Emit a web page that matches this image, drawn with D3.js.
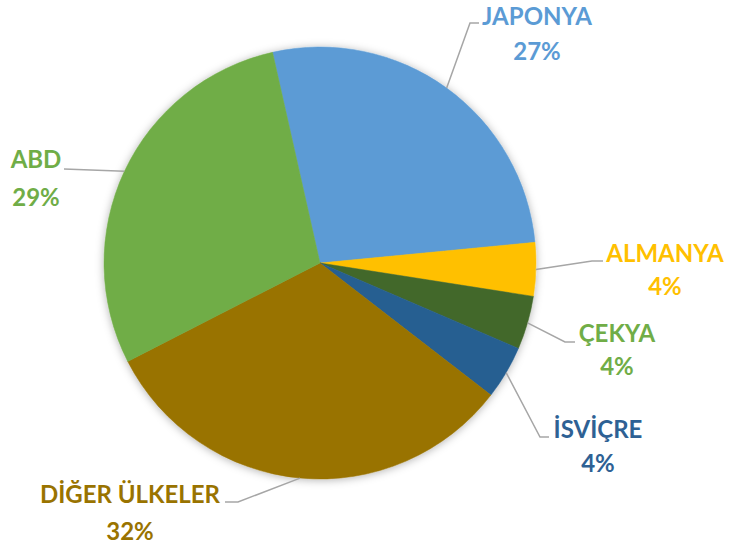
<!DOCTYPE html>
<html>
<head>
<meta charset="utf-8">
<script src="https://cdn.jsdelivr.net/npm/d3@7"></script>
<style>
  body { margin: 0; background: #fff; }
  text { font-family: Lato, "Open Sans", sans-serif; font-weight: 700; }
</style>
</head>
<body>
<script>
let width = 729,
  height = 546,
  cx = 320,
  cy = 263,
  radius = 216

// data
let countries = ['JAPONYA', 'ALMANYA', 'ÇEKYA', 'İSVİÇRE', 'DİĞER ÜLKELER', 'ABD']
let shares = [27, 4, 4, 4, 32, 29]
let sliceColors = ['#5b9bd5', '#ffc000', '#43682b', '#255e91', '#997300', '#70ad47']
let textColors = ['#5b9bd5', '#ffc000', '#70ad47', '#2e6194', '#997300', '#70ad47']

// label placement: text centre x, first baseline, second baseline, leader elbow & end
let labelPos = [
  { x: 537, y1: 25, y2: 60, ex: 470, ey: 23, tx: 479 },
  { x: 665, y1: 262, y2: 295, ex: 592, ey: 261, tx: 603 },
  { x: 617, y1: 342, y2: 375, ex: 565, ey: 342, tx: 575 },
  { x: 598, y1: 438, y2: 472, ex: 540, ey: 437, tx: 549 },
  { x: 130, y1: 503, y2: 540, ex: 238, ey: 502, tx: 225 },
  { x: 36, y1: 168, y2: 206, ex: 64, ey: 169, tx: 64 }
]

let svg = d3.select('body').append('svg')
  .attr('width', width)
  .attr('height', height)

let defs = svg.append('defs')
let shadow = defs.append('filter').attr('id', 'shadow')
  .attr('x', '-20%').attr('y', '-20%').attr('width', '140%').attr('height', '140%')
shadow.append('feDropShadow')
  .attr('dx', 0).attr('dy', 1)
  .attr('stdDeviation', 4)
  .attr('flood-color', '#000')
  .attr('flood-opacity', 0.3)

let startAngle = -12.7 * Math.PI / 180
let pie = d3.pie().sort(null)
  .startAngle(startAngle)
  .endAngle(startAngle + 2 * Math.PI)
let arcs = pie(shares)
let arc = d3.arc().innerRadius(0).outerRadius(radius)

let g = svg.append('g')
  .attr('transform', `translate(${cx},${cy})`)

g.append('g')
  .attr('filter', 'url(#shadow)')
  .selectAll('path')
  .data(arcs)
  .enter().append('path')
  .attr('d', arc)
  .attr('fill', (d, i) => sliceColors[i])
  .attr('stroke', (d, i) => sliceColors[i])
  .attr('stroke-width', 0.5)

// leader lines
svg.append('g').selectAll('polyline')
  .data(arcs)
  .enter().append('polyline')
  .attr('fill', 'none')
  .attr('stroke', '#a6a6a6')
  .attr('stroke-width', 1.5)
  .attr('points', (d, i) => {
    let a = (d.startAngle + d.endAngle) / 2
    let sx = cx + radius * Math.sin(a)
    let sy = cy - radius * Math.cos(a)
    let p = labelPos[i]
    return `${sx},${sy} ${p.ex},${p.ey} ${p.tx},${p.ey}`
  })

let labels = svg.append('g').selectAll('g')
  .data(arcs)
  .enter().append('g')

labels.append('text')
  .attr('x', (d, i) => labelPos[i].x)
  .attr('y', (d, i) => labelPos[i].y1)
  .attr('text-anchor', 'middle')
  .attr('font-size', 24)
  .attr('fill', (d, i) => textColors[i])
  .text((d, i) => countries[i])

labels.append('text')
  .attr('x', (d, i) => labelPos[i].x)
  .attr('y', (d, i) => labelPos[i].y2)
  .attr('text-anchor', 'middle')
  .attr('font-size', 24)
  .attr('fill', (d, i) => textColors[i])
  .text(d => d.data + '%')
</script>
</body>
</html>
